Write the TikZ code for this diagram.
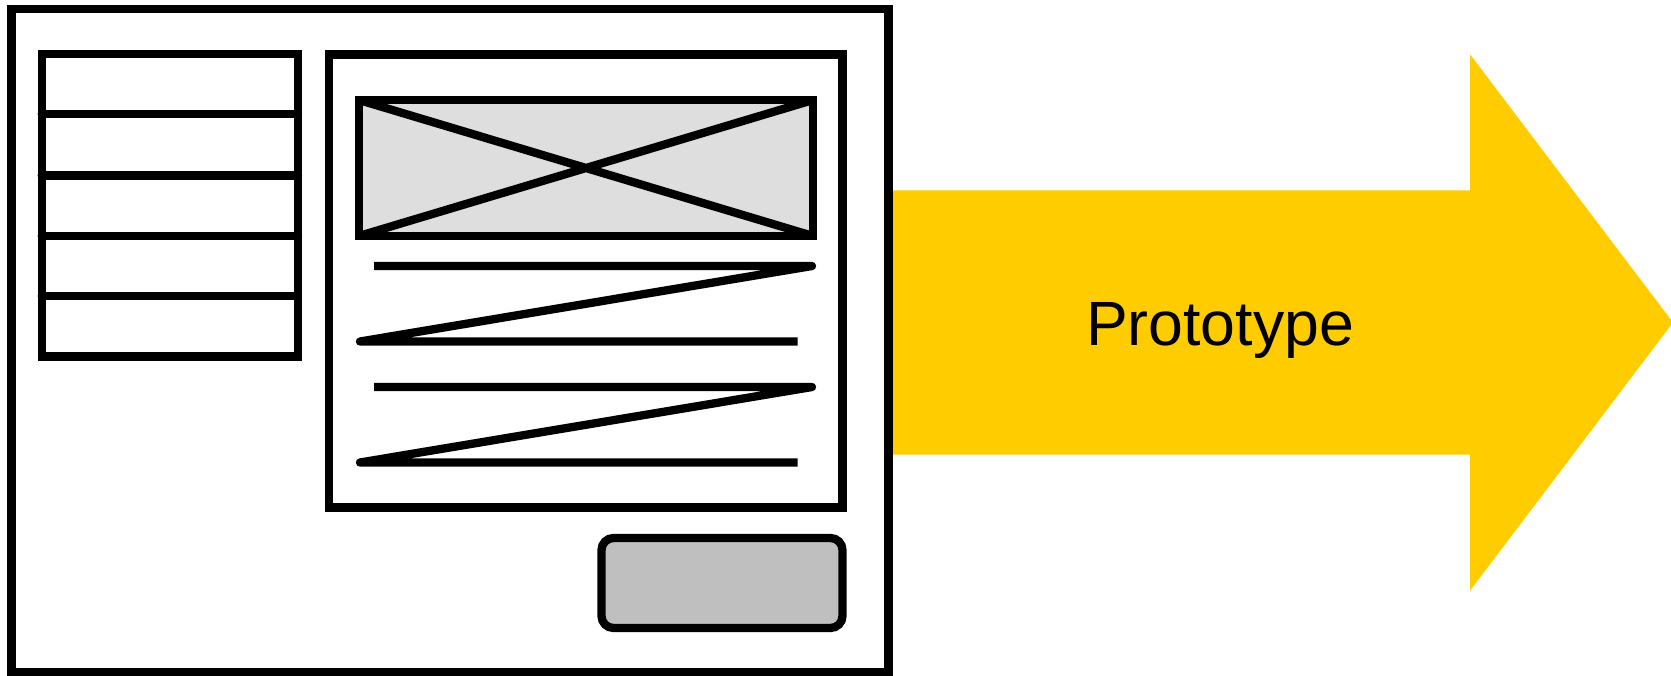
\documentclass[tikz,border=0pt]{standalone}
\usepackage{fontspec}
\setmainfont{Liberation Sans}
\definecolor{protoyellow}{HTML}{FFCC00}

\begin{document}
\begin{tikzpicture}[
  wire/.style={draw=black,line width=0.083cm},
  zigzag/.style={draw=black,line width=0.083cm,line join=round},
  imagebox/.style={wire,fill=black!13},
  buttonbox/.style={wire,fill=black!25,rounded corners=0.12cm},
  bigarrow/.style={fill=protoyellow},
  label/.style={font=\fontsize{17.8}{20}\selectfont,inner sep=0pt,anchor=base}
]
\useasboundingbox (0,0) rectangle (16.71,-6.75);

% Arrow towards the prototype
\fill[bigarrow] (8.885,-1.903) -- (14.70,-1.903) -- (14.70,-0.543) -- (16.73,-3.225)
  -- (14.70,-5.907) -- (14.70,-4.547) -- (8.885,-4.547) -- cycle;
\node[label] (proto) at (12.20,-3.457) {Prototype};

% Screen frame
\draw[wire] (0.115,-0.088) rectangle (8.885,-6.725);

% Menu list on the left
\draw[wire] (0.417,-0.54) rectangle (2.98,-3.565);
\foreach \y in {-1.14,-1.755,-2.36,-2.96}
  \draw[wire,line cap=round] (0.417,\y) -- (2.98,\y);

% Content panel with image placeholder
\draw[wire] (3.29,-0.545) rectangle (8.425,-5.075);
\draw[imagebox] (3.59,-1.00) rectangle (8.13,-2.36);
\draw[wire] (3.59,-1.00) -- (8.13,-2.36) (3.59,-2.36) -- (8.13,-1.00);
% Text lines
\foreach \y in {-2.66,-3.87}
  \draw[zigzag] (3.74,\y) -- (8.12,\y) -- (3.60,\y-0.755) -- (7.975,\y-0.755);

% Button
\draw[buttonbox] (6.015,-5.38) rectangle (8.425,-6.28);
\end{tikzpicture}
\end{document}
